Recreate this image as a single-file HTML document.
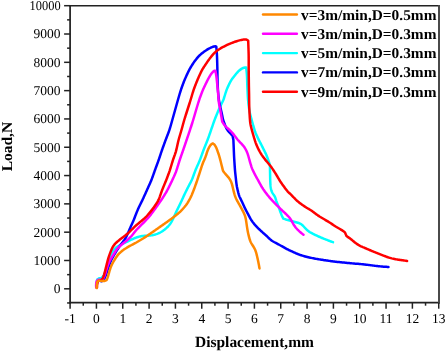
<!DOCTYPE html>
<html><head><meta charset="utf-8"><style>
html,body{margin:0;padding:0;background:#fff;width:445px;height:351px;overflow:hidden}
svg{display:block;text-rendering:geometricPrecision;will-change:transform}
.t{font-family:"Liberation Serif",serif;font-size:13.5px;fill:#000}
.b{font-family:"Liberation Serif",serif;font-size:15px;font-weight:bold;fill:#000}
.l{font-family:"Liberation Serif",serif;font-size:15px;font-weight:bold;fill:#000}
</style></head><body>
<svg width="445" height="351" viewBox="0 0 445 351">
<path d="M96.60,287.00 L96.63,286.08 L96.67,285.17 L96.70,284.25 L96.76,283.33 L96.82,282.41 L96.89,281.48 L97.00,280.55 L97.20,279.60 L98.15,278.90 L99.10,278.20 L100.30,278.35 L101.39,278.00 L102.23,277.38 L102.93,276.63 L103.53,275.79 L104.05,274.90 L104.49,273.95 L104.88,272.98 L105.23,272.00 L105.54,271.00 L105.85,270.00 L106.14,269.00 L106.43,268.00 L106.71,267.00 L107.00,266.00 L107.29,265.00 L107.57,264.00 L107.86,263.00 L108.16,262.00 L108.47,261.00 L108.79,260.00 L109.14,259.00 L109.50,258.01 L109.89,257.03 L110.29,256.06 L110.71,255.10 L111.13,254.17 L111.57,253.26 L112.03,252.38 L112.52,251.53 L113.06,250.72 L113.63,249.95 L114.26,249.23 L114.92,248.56 L115.63,247.92 L116.38,247.34 L117.16,246.80 L117.97,246.29 L118.80,245.82 L119.64,245.36 L120.49,244.93 L121.35,244.50 L122.20,244.07 L123.06,243.65 L123.92,243.23 L124.79,242.80 L125.67,242.38 L126.56,241.95 L127.47,241.51 L128.39,241.07 L129.32,240.62 L130.26,240.16 L131.21,239.71 L132.18,239.25 L133.15,238.80 L134.13,238.37 L135.12,237.96 L136.11,237.58 L137.11,237.23 L138.11,236.92 L139.11,236.65 L140.12,236.42 L141.13,236.23 L142.14,236.08 L143.16,235.96 L144.17,235.87 L145.18,235.80 L146.19,235.75 L147.20,235.70 L148.20,235.66 L149.21,235.59 L150.22,235.50 L151.23,235.38 L152.24,235.22 L153.26,235.02 L154.27,234.78 L155.28,234.50 L156.28,234.18 L157.28,233.82 L158.25,233.42 L159.22,232.99 L160.15,232.52 L161.06,232.01 L161.95,231.47 L162.81,230.91 L163.65,230.32 L164.47,229.70 L165.27,229.06 L166.04,228.39 L166.79,227.70 L167.51,226.99 L168.22,226.26 L168.89,225.51 L169.53,224.75 L170.14,223.96 L170.69,223.15 L171.21,222.32 L171.69,221.46 L172.15,220.60 L172.60,219.72 L173.04,218.83 L173.47,217.93 L173.90,217.02 L174.32,216.10 L174.74,215.17 L175.16,214.24 L175.58,213.31 L175.99,212.39 L176.42,211.48 L176.84,210.59 L177.26,209.70 L177.69,208.83 L178.12,207.96 L178.55,207.10 L178.98,206.24 L179.41,205.37 L179.84,204.50 L180.26,203.62 L180.69,202.73 L181.11,201.83 L181.54,200.92 L181.96,200.00 L182.38,199.08 L182.80,198.15 L183.22,197.22 L183.64,196.30 L184.06,195.38 L184.49,194.47 L184.91,193.58 L185.34,192.69 L185.76,191.82 L186.19,190.96 L186.62,190.10 L187.05,189.25 L187.48,188.40 L187.91,187.55 L188.35,186.70 L188.78,185.86 L189.22,185.02 L189.66,184.17 L190.10,183.33 L190.54,182.49 L190.97,181.65 L191.38,180.79 L191.78,179.93 L192.16,179.05 L192.52,178.16 L192.87,177.26 L193.20,176.36 L193.53,175.45 L193.86,174.55 L194.19,173.64 L194.53,172.73 L194.87,171.82 L195.22,170.91 L195.58,170.00 L195.95,169.09 L196.34,168.18 L196.74,167.27 L197.14,166.36 L197.55,165.45 L197.95,164.55 L198.36,163.64 L198.76,162.73 L199.16,161.82 L199.54,160.91 L199.91,160.00 L200.27,159.09 L200.61,158.18 L200.94,157.27 L201.27,156.36 L201.59,155.45 L201.91,154.55 L202.23,153.64 L202.55,152.73 L202.88,151.82 L203.21,150.91 L203.55,150.00 L203.90,149.09 L204.26,148.18 L204.63,147.27 L204.99,146.36 L205.36,145.45 L205.74,144.55 L206.11,143.64 L206.48,142.73 L206.84,141.81 L207.20,140.90 L207.55,139.98 L207.90,139.07 L208.24,138.15 L208.57,137.22 L208.90,136.30 L209.23,135.37 L209.55,134.44 L209.88,133.50 L210.21,132.56 L210.53,131.61 L210.86,130.65 L211.19,129.69 L211.52,128.72 L211.85,127.75 L212.18,126.78 L212.52,125.82 L212.85,124.85 L213.18,123.88 L213.51,122.92 L213.85,121.96 L214.19,121.01 L214.53,120.07 L214.88,119.15 L215.24,118.24 L215.60,117.33 L215.96,116.43 L216.32,115.54 L216.69,114.64 L217.05,113.75 L217.41,112.86 L217.78,111.96 L218.15,111.07 L218.52,110.17 L218.91,109.27 L219.30,108.37 L219.72,107.46 L220.16,106.54 L220.61,105.61 L221.08,104.68 L221.55,103.74 L222.01,102.80 L222.47,101.86 L222.90,100.90 L223.31,99.94 L223.68,98.97 L224.02,97.98 L224.34,96.99 L224.65,96.00 L224.95,95.00 L225.25,94.00 L225.55,93.01 L225.86,92.03 L226.19,91.05 L226.53,90.09 L226.90,89.14 L227.29,88.21 L227.70,87.28 L228.12,86.37 L228.54,85.46 L228.97,84.55 L229.40,83.64 L229.85,82.75 L230.31,81.86 L230.80,81.00 L231.31,80.16 L231.86,79.34 L232.44,78.55 L233.03,77.77 L233.63,77.01 L234.23,76.25 L234.82,75.50 L235.40,74.76 L235.99,74.02 L236.60,73.29 L237.21,72.57 L237.85,71.87 L238.51,71.19 L239.20,70.54 L239.92,69.93 L240.68,69.37 L241.46,68.85 L242.28,68.39 L243.15,67.99 L244.07,67.69 L245.05,67.50 L246.20,67.60 L246.31,68.66 L246.43,69.71 L246.54,70.77 L246.65,71.83 L246.75,72.87 L246.84,73.91 L246.92,74.94 L246.98,75.97 L247.03,76.98 L247.07,77.99 L247.10,79.00 L247.14,80.00 L247.16,81.00 L247.19,82.00 L247.22,83.00 L247.25,84.00 L247.29,85.00 L247.32,86.00 L247.36,87.00 L247.41,88.00 L247.45,89.00 L247.50,90.00 L247.55,91.00 L247.60,92.00 L247.65,93.00 L247.70,94.00 L247.75,95.00 L247.80,96.00 L247.86,97.00 L247.92,98.00 L247.99,99.00 L248.07,100.00 L248.17,101.00 L248.27,102.00 L248.38,103.00 L248.50,104.00 L248.63,105.00 L248.75,106.00 L248.88,107.00 L249.01,108.00 L249.14,109.00 L249.29,110.00 L249.46,111.00 L249.65,112.00 L249.86,113.00 L250.09,114.00 L250.34,115.00 L250.61,116.00 L250.88,117.00 L251.15,118.00 L251.42,119.00 L251.70,119.99 L251.97,120.99 L252.25,121.98 L252.52,122.97 L252.80,123.97 L253.07,124.96 L253.35,125.95 L253.63,126.94 L253.91,127.93 L254.19,128.91 L254.49,129.89 L254.81,130.86 L255.14,131.81 L255.50,132.75 L255.89,133.67 L256.29,134.59 L256.70,135.50 L257.12,136.40 L257.55,137.31 L257.98,138.22 L258.43,139.14 L258.90,140.07 L259.37,141.01 L259.86,141.96 L260.35,142.91 L260.84,143.85 L261.33,144.80 L261.81,145.73 L262.28,146.66 L262.74,147.59 L263.21,148.51 L263.67,149.44 L264.13,150.36 L264.59,151.29 L265.05,152.21 L265.50,153.14 L265.94,154.07 L266.37,155.01 L266.77,155.96 L267.16,156.93 L267.53,157.90 L267.89,158.87 L268.23,159.86 L268.57,160.84 L268.90,161.83 L269.23,162.82 L269.57,163.81 L269.90,164.80 L269.92,165.81 L269.94,166.83 L269.96,167.84 L269.98,168.85 L270.00,169.87 L270.02,170.88 L270.04,171.89 L270.06,172.91 L270.08,173.92 L270.10,174.93 L270.12,175.95 L270.14,176.96 L270.16,177.97 L270.18,178.99 L270.20,180.00 L270.24,181.00 L270.29,182.00 L270.33,183.00 L270.38,184.00 L270.46,184.99 L270.55,185.98 L270.67,186.97 L270.82,187.94 L271.01,188.91 L271.23,189.86 L271.51,190.79 L271.85,191.69 L272.26,192.54 L272.74,193.36 L273.26,194.15 L273.80,194.93 L274.31,195.71 L274.76,196.51 L275.14,197.34 L275.45,198.20 L275.73,199.08 L275.99,199.97 L276.27,200.86 L276.58,201.75 L276.91,202.65 L277.26,203.56 L277.63,204.48 L278.00,205.40 L278.38,206.33 L278.75,207.27 L279.10,208.21 L279.45,209.16 L279.78,210.10 L280.11,211.05 L280.43,211.99 L280.77,212.93 L281.13,213.87 L281.50,214.81 L281.89,215.74 L282.32,216.66 L282.76,217.58 L283.20,218.50 L284.12,218.84 L285.04,219.18 L285.96,219.50 L286.88,219.78 L287.80,220.03 L288.72,220.27 L289.63,220.49 L290.55,220.71 L291.45,220.94 L292.35,221.17 L293.25,221.42 L294.15,221.68 L295.05,221.93 L295.95,222.18 L296.85,222.42 L297.76,222.67 L298.67,222.97 L299.57,223.32 L300.44,223.76 L301.27,224.28 L302.06,224.88 L302.79,225.54 L303.48,226.25 L304.14,226.98 L304.80,227.72 L305.46,228.44 L306.15,229.14 L306.86,229.81 L307.60,230.45 L308.37,231.07 L309.16,231.65 L310.00,232.20 L310.86,232.72 L311.76,233.21 L312.67,233.68 L313.60,234.13 L314.54,234.57 L315.47,235.01 L316.41,235.44 L317.34,235.88 L318.27,236.31 L319.21,236.74 L320.16,237.16 L321.12,237.58 L322.09,237.99 L323.06,238.39 L324.04,238.79 L325.03,239.18 L326.02,239.57 L327.01,239.96 L328.00,240.34 L329.00,240.71 L330.00,241.09 L331.00,241.46 L332.00,241.83 L333.00,242.20" fill="none" stroke="#00ffff" stroke-width="2.5" stroke-linejoin="round" stroke-linecap="round"/><path d="M96.60,287.00 L96.64,286.00 L96.68,285.00 L96.78,284.05 L97.06,283.22 L97.30,282.36 L97.65,281.58 L98.27,281.00 L99.00,280.50 L99.83,280.73 L100.67,280.97 L101.50,281.20 L102.50,280.85 L103.22,280.31 L103.79,279.57 L104.28,278.74 L104.73,277.85 L105.13,276.92 L105.50,275.96 L105.86,275.00 L106.20,274.03 L106.52,273.06 L106.85,272.11 L107.17,271.17 L107.48,270.23 L107.80,269.28 L108.12,268.34 L108.44,267.40 L108.76,266.45 L109.08,265.50 L109.42,264.56 L109.76,263.61 L110.12,262.67 L110.50,261.74 L110.90,260.81 L111.32,259.90 L111.76,259.01 L112.23,258.14 L112.71,257.28 L113.21,256.42 L113.70,255.58 L114.19,254.73 L114.68,253.88 L115.19,253.02 L115.71,252.16 L116.25,251.30 L116.81,250.44 L117.37,249.59 L117.93,248.75 L118.49,247.91 L119.04,247.08 L119.62,246.25 L120.22,245.41 L120.85,244.56 L121.50,243.69 L122.17,242.83 L122.85,241.96 L123.51,241.09 L124.15,240.23 L124.75,239.36 L125.30,238.50 L125.80,237.64 L126.26,236.79 L126.68,235.93 L127.07,235.06 L127.46,234.19 L127.84,233.32 L128.23,232.43 L128.62,231.53 L129.01,230.62 L129.40,229.71 L129.80,228.79 L130.20,227.88 L130.60,226.97 L131.00,226.07 L131.40,225.18 L131.80,224.30 L132.20,223.43 L132.59,222.56 L132.99,221.67 L133.38,220.78 L133.76,219.86 L134.14,218.93 L134.51,217.98 L134.88,217.02 L135.24,216.06 L135.60,215.12 L135.96,214.19 L136.33,213.29 L136.69,212.39 L137.05,211.51 L137.42,210.63 L137.80,209.75 L138.18,208.87 L138.58,207.99 L138.99,207.10 L139.41,206.22 L139.84,205.33 L140.28,204.44 L140.72,203.55 L141.16,202.66 L141.60,201.77 L142.04,200.88 L142.47,199.98 L142.89,199.08 L143.31,198.18 L143.72,197.27 L144.13,196.36 L144.54,195.45 L144.95,194.55 L145.36,193.64 L145.77,192.73 L146.18,191.82 L146.59,190.91 L147.00,190.00 L147.41,189.09 L147.82,188.18 L148.23,187.27 L148.64,186.36 L149.05,185.45 L149.45,184.55 L149.86,183.64 L150.26,182.73 L150.66,181.82 L151.04,180.91 L151.41,180.00 L151.77,179.09 L152.11,178.18 L152.44,177.27 L152.77,176.36 L153.09,175.45 L153.41,174.55 L153.73,173.64 L154.05,172.73 L154.37,171.82 L154.69,170.91 L155.02,170.00 L155.35,169.09 L155.68,168.18 L156.01,167.27 L156.35,166.36 L156.68,165.45 L157.02,164.55 L157.35,163.64 L157.69,162.73 L158.02,161.82 L158.34,160.91 L158.66,160.00 L158.98,159.09 L159.29,158.18 L159.60,157.27 L159.90,156.36 L160.20,155.45 L160.50,154.55 L160.80,153.64 L161.10,152.73 L161.41,151.82 L161.72,150.91 L162.03,150.00 L162.34,149.09 L162.66,148.18 L162.99,147.27 L163.31,146.36 L163.64,145.45 L163.96,144.55 L164.29,143.64 L164.62,142.73 L164.95,141.82 L165.29,140.91 L165.63,140.00 L165.97,139.09 L166.32,138.18 L166.67,137.27 L167.02,136.36 L167.37,135.45 L167.73,134.54 L168.08,133.63 L168.43,132.72 L168.77,131.79 L169.10,130.86 L169.43,129.91 L169.74,128.95 L170.04,127.97 L170.33,126.99 L170.62,126.00 L170.90,125.00 L171.18,124.00 L171.46,123.00 L171.74,122.00 L172.02,121.00 L172.30,120.00 L172.58,119.00 L172.86,118.00 L173.14,117.00 L173.42,116.00 L173.70,115.00 L173.98,114.00 L174.26,113.00 L174.54,112.00 L174.82,111.00 L175.10,110.00 L175.38,109.00 L175.66,108.00 L175.94,107.00 L176.22,106.00 L176.50,105.00 L176.78,104.00 L177.06,103.00 L177.34,102.00 L177.63,101.00 L177.91,100.00 L178.20,99.00 L178.48,98.00 L178.77,97.00 L179.06,96.00 L179.35,95.00 L179.64,94.00 L179.94,93.01 L180.23,92.03 L180.54,91.05 L180.85,90.09 L181.16,89.14 L181.49,88.21 L181.81,87.28 L182.15,86.37 L182.48,85.46 L182.82,84.55 L183.16,83.64 L183.50,82.72 L183.85,81.81 L184.21,80.89 L184.59,79.97 L184.98,79.05 L185.38,78.12 L185.79,77.19 L186.21,76.25 L186.64,75.32 L187.07,74.38 L187.49,73.45 L187.93,72.52 L188.37,71.61 L188.82,70.70 L189.28,69.81 L189.76,68.94 L190.24,68.09 L190.74,67.25 L191.24,66.43 L191.75,65.60 L192.27,64.78 L192.79,63.97 L193.32,63.15 L193.86,62.35 L194.42,61.54 L195.01,60.75 L195.61,59.96 L196.23,59.18 L196.86,58.41 L197.50,57.65 L198.16,56.90 L198.82,56.18 L199.50,55.48 L200.20,54.82 L200.92,54.18 L201.65,53.57 L202.39,52.98 L203.15,52.39 L203.92,51.82 L204.70,51.27 L205.51,50.72 L206.33,50.19 L207.16,49.68 L208.00,49.18 L208.84,48.70 L209.68,48.25 L210.52,47.83 L211.35,47.44 L212.19,47.10 L213.03,46.79 L213.86,46.54 L214.71,46.35 L215.55,46.29 L216.30,46.70 L216.39,47.74 L216.48,48.78 L216.56,49.81 L216.65,50.85 L216.73,51.88 L216.81,52.91 L216.88,53.94 L216.94,54.96 L216.99,55.98 L217.04,56.99 L217.07,58.00 L217.10,59.00 L217.13,60.00 L217.16,61.00 L217.19,62.00 L217.21,63.00 L217.24,64.00 L217.27,65.00 L217.29,66.00 L217.32,67.00 L217.34,68.00 L217.36,69.00 L217.38,70.00 L217.40,71.00 L217.42,72.00 L217.43,73.00 L217.44,74.00 L217.45,75.00 L217.46,76.00 L217.47,77.00 L217.49,78.00 L217.51,79.00 L217.53,80.00 L217.56,81.00 L217.59,82.00 L217.62,83.00 L217.66,84.00 L217.70,85.00 L217.74,86.00 L217.79,87.00 L217.83,88.00 L217.89,89.00 L217.95,90.00 L218.02,91.00 L218.09,92.00 L218.18,93.00 L218.26,94.00 L218.35,95.00 L218.45,96.00 L218.54,97.00 L218.65,98.00 L218.77,99.00 L218.91,100.00 L219.06,101.00 L219.23,102.00 L219.42,103.00 L219.62,104.00 L219.83,105.00 L220.05,106.00 L220.28,107.00 L220.51,108.00 L220.75,109.00 L220.99,110.00 L221.22,111.00 L221.45,112.00 L221.67,113.00 L221.89,114.00 L222.10,115.00 L222.30,116.00 L222.50,117.00 L222.70,118.00 L222.90,119.00 L223.10,120.00 L223.48,121.00 L223.86,122.00 L224.24,122.99 L224.60,123.96 L224.96,124.91 L225.33,125.84 L225.71,126.75 L226.11,127.64 L226.54,128.51 L227.01,129.34 L227.55,130.15 L228.13,130.94 L228.75,131.71 L229.42,132.47 L230.13,133.22 L230.86,133.97 L231.67,134.73 L232.50,135.50 L232.68,136.40 L232.86,137.30 L233.04,138.20 L233.22,139.10 L233.40,140.00 L233.44,141.01 L233.48,142.01 L233.52,143.02 L233.56,144.02 L233.61,145.03 L233.65,146.04 L233.69,147.04 L233.73,148.05 L233.77,149.05 L233.81,150.06 L233.85,151.06 L233.89,152.07 L233.94,153.08 L233.98,154.08 L234.02,155.08 L234.07,156.08 L234.12,157.07 L234.18,158.06 L234.24,159.05 L234.30,160.03 L234.36,161.01 L234.42,161.99 L234.49,162.97 L234.55,163.95 L234.61,164.93 L234.68,165.91 L234.75,166.89 L234.81,167.87 L234.89,168.86 L234.96,169.85 L235.05,170.85 L235.14,171.85 L235.24,172.87 L235.35,173.89 L235.46,174.91 L235.57,175.93 L235.68,176.96 L235.79,177.99 L235.91,179.01 L236.02,180.04 L236.14,181.07 L236.25,182.09 L236.37,183.11 L236.51,184.12 L236.65,185.12 L236.81,186.11 L236.99,187.09 L237.19,188.05 L237.40,189.00 L237.61,189.94 L237.84,190.88 L238.07,191.82 L238.30,192.75 L238.55,193.67 L238.81,194.59 L239.10,195.49 L239.43,196.37 L239.79,197.23 L240.18,198.07 L240.59,198.91 L241.01,199.74 L241.43,200.58 L241.85,201.44 L242.26,202.30 L242.66,203.18 L243.05,204.06 L243.45,204.95 L243.85,205.84 L244.25,206.73 L244.67,207.63 L245.11,208.53 L245.56,209.43 L246.03,210.34 L246.51,211.25 L246.99,212.15 L247.47,213.05 L247.94,213.94 L248.41,214.82 L248.87,215.70 L249.33,216.56 L249.79,217.42 L250.27,218.28 L250.76,219.13 L251.29,219.98 L251.84,220.82 L252.42,221.65 L253.03,222.48 L253.67,223.30 L254.31,224.10 L254.98,224.88 L255.66,225.65 L256.35,226.39 L257.05,227.12 L257.75,227.84 L258.47,228.55 L259.18,229.25 L259.90,229.94 L260.62,230.62 L261.34,231.29 L262.07,231.94 L262.80,232.59 L263.52,233.23 L264.25,233.86 L264.97,234.50 L265.68,235.14 L266.39,235.78 L267.10,236.44 L267.80,237.11 L268.51,237.79 L269.23,238.48 L269.96,239.15 L270.72,239.80 L271.52,240.42 L272.34,240.99 L273.19,241.51 L274.06,242.01 L274.93,242.48 L275.80,242.93 L276.66,243.38 L277.52,243.84 L278.37,244.29 L279.22,244.76 L280.08,245.23 L280.94,245.72 L281.80,246.21 L282.67,246.70 L283.53,247.19 L284.39,247.68 L285.24,248.15 L286.08,248.61 L286.92,249.05 L287.75,249.47 L288.58,249.87 L289.42,250.26 L290.27,250.66 L291.14,251.06 L292.02,251.47 L292.91,251.88 L293.80,252.30 L294.71,252.71 L295.61,253.12 L296.53,253.53 L297.46,253.91 L298.40,254.28 L299.36,254.63 L300.33,254.97 L301.31,255.28 L302.30,255.59 L303.30,255.89 L304.30,256.19 L305.30,256.47 L306.30,256.74 L307.30,257.00 L308.30,257.24 L309.30,257.47 L310.30,257.69 L311.30,257.89 L312.30,258.10 L313.30,258.29 L314.30,258.49 L315.30,258.68 L316.30,258.86 L317.30,259.03 L318.30,259.20 L319.30,259.36 L320.30,259.52 L321.30,259.68 L322.30,259.83 L323.30,259.99 L324.29,260.14 L325.29,260.29 L326.28,260.44 L327.27,260.59 L328.27,260.73 L329.26,260.88 L330.24,261.02 L331.23,261.16 L332.23,261.30 L333.22,261.43 L334.21,261.56 L335.21,261.68 L336.20,261.79 L337.20,261.89 L338.20,262.00 L339.20,262.10 L340.20,262.20 L341.20,262.30 L342.20,262.40 L343.20,262.50 L344.20,262.60 L345.20,262.70 L346.20,262.80 L347.20,262.90 L348.20,263.00 L349.20,263.10 L350.20,263.19 L351.20,263.29 L352.20,263.38 L353.20,263.47 L354.20,263.55 L355.20,263.63 L356.20,263.71 L357.20,263.79 L358.20,263.87 L359.19,263.95 L360.18,264.04 L361.17,264.13 L362.15,264.23 L363.12,264.33 L364.10,264.44 L365.06,264.55 L366.03,264.66 L367.00,264.77 L367.96,264.88 L368.91,265.00 L369.87,265.12 L370.82,265.25 L371.76,265.37 L372.70,265.50 L373.64,265.62 L374.58,265.75 L375.52,265.87 L376.46,265.98 L377.41,266.09 L378.36,266.19 L379.33,266.29 L380.30,266.38 L381.29,266.47 L382.29,266.56 L383.31,266.64 L384.33,266.71 L385.37,266.79 L386.41,266.86 L387.46,266.93 L388.50,267.00" fill="none" stroke="#0000ff" stroke-width="2.5" stroke-linejoin="round" stroke-linecap="round"/><path d="M96.20,287.50 L96.15,286.62 L96.10,285.75 L96.13,284.87 L96.18,283.98 L96.24,283.10 L96.40,282.20 L96.60,281.30 L97.30,280.55 L98.00,279.80 L98.83,279.73 L99.70,279.67 L100.62,279.61 L101.55,279.55 L102.60,279.50 L103.10,278.60 L103.60,277.70 L104.03,276.79 L104.41,275.86 L104.76,274.94 L105.08,274.00 L105.39,273.07 L105.68,272.13 L105.96,271.18 L106.24,270.24 L106.53,269.29 L106.82,268.35 L107.11,267.40 L107.42,266.46 L107.74,265.52 L108.08,264.59 L108.44,263.67 L108.82,262.76 L109.24,261.86 L109.68,260.97 L110.15,260.08 L110.64,259.20 L111.16,258.32 L111.70,257.43 L112.25,256.55 L112.80,255.67 L113.34,254.80 L113.86,253.93 L114.37,253.06 L114.87,252.21 L115.37,251.37 L115.89,250.56 L116.43,249.78 L117.02,249.02 L117.65,248.29 L118.32,247.58 L119.03,246.89 L119.78,246.20 L120.56,245.52 L121.37,244.84 L122.20,244.16 L123.05,243.48 L123.90,242.80 L124.75,242.12 L125.60,241.44 L126.44,240.75 L127.26,240.06 L128.06,239.36 L128.83,238.66 L129.58,237.95 L130.31,237.24 L131.00,236.51 L131.67,235.78 L132.31,235.04 L132.92,234.29 L133.51,233.53 L134.09,232.77 L134.68,232.01 L135.29,231.25 L135.92,230.50 L136.58,229.76 L137.27,229.02 L137.97,228.29 L138.68,227.56 L139.39,226.84 L140.11,226.11 L140.84,225.39 L141.56,224.68 L142.28,223.96 L143.00,223.25 L143.71,222.53 L144.41,221.82 L145.10,221.11 L145.77,220.41 L146.42,219.70 L147.06,219.00 L147.69,218.30 L148.32,217.59 L148.94,216.87 L149.56,216.14 L150.18,215.39 L150.79,214.62 L151.39,213.84 L152.00,213.05 L152.60,212.24 L153.20,211.43 L153.80,210.62 L154.39,209.80 L154.98,208.98 L155.57,208.16 L156.16,207.33 L156.75,206.50 L157.33,205.68 L157.91,204.85 L158.50,204.03 L159.08,203.22 L159.65,202.40 L160.22,201.59 L160.79,200.78 L161.34,199.96 L161.89,199.14 L162.42,198.31 L162.95,197.49 L163.47,196.66 L163.98,195.84 L164.49,195.02 L164.99,194.21 L165.49,193.39 L165.98,192.57 L166.47,191.74 L166.95,190.89 L167.42,190.02 L167.89,189.13 L168.34,188.24 L168.80,187.33 L169.25,186.41 L169.70,185.50 L170.15,184.58 L170.60,183.67 L171.04,182.75 L171.49,181.84 L171.92,180.93 L172.35,180.03 L172.77,179.13 L173.19,178.23 L173.59,177.34 L174.00,176.45 L174.39,175.55 L174.79,174.66 L175.17,173.77 L175.54,172.87 L175.89,171.97 L176.22,171.06 L176.54,170.14 L176.84,169.23 L177.13,168.31 L177.42,167.38 L177.71,166.46 L177.99,165.54 L178.28,164.62 L178.56,163.69 L178.85,162.77 L179.14,161.85 L179.43,160.93 L179.73,160.01 L180.04,159.10 L180.35,158.19 L180.66,157.27 L180.97,156.36 L181.29,155.45 L181.61,154.55 L181.93,153.64 L182.24,152.73 L182.56,151.82 L182.88,150.91 L183.19,150.00 L183.50,149.09 L183.82,148.18 L184.13,147.27 L184.44,146.36 L184.75,145.45 L185.05,144.55 L185.36,143.64 L185.67,142.73 L185.98,141.82 L186.29,140.91 L186.60,140.00 L186.91,139.09 L187.22,138.18 L187.53,137.27 L187.84,136.36 L188.15,135.45 L188.45,134.54 L188.76,133.63 L189.07,132.72 L189.38,131.79 L189.70,130.86 L190.01,129.91 L190.33,128.95 L190.64,127.97 L190.96,126.99 L191.28,126.00 L191.60,125.00 L191.92,124.00 L192.24,123.00 L192.55,122.00 L192.86,121.00 L193.17,120.00 L193.47,119.00 L193.77,118.00 L194.07,117.00 L194.36,116.00 L194.65,115.00 L194.94,114.00 L195.23,113.00 L195.52,112.00 L195.82,111.00 L196.11,110.00 L196.41,109.00 L196.70,108.00 L197.00,107.00 L197.30,106.00 L197.60,105.00 L197.90,104.00 L198.20,103.01 L198.51,102.03 L198.82,101.05 L199.14,100.09 L199.46,99.14 L199.78,98.21 L200.11,97.28 L200.45,96.37 L200.78,95.46 L201.12,94.55 L201.46,93.64 L201.80,92.73 L202.16,91.82 L202.52,90.91 L202.90,90.00 L203.29,89.09 L203.70,88.18 L204.12,87.27 L204.55,86.36 L204.98,85.45 L205.42,84.55 L205.86,83.64 L206.30,82.73 L206.74,81.83 L207.19,80.93 L207.65,80.04 L208.11,79.15 L208.59,78.27 L209.07,77.40 L209.56,76.54 L210.07,75.69 L210.60,74.86 L211.15,74.06 L211.73,73.28 L212.33,72.54 L212.96,71.84 L213.64,71.21 L214.35,70.66 L215.30,70.70 L215.55,71.78 L215.80,72.85 L216.00,73.90 L216.17,74.94 L216.32,75.96 L216.46,76.98 L216.58,77.99 L216.69,79.00 L216.80,80.00 L216.90,81.00 L217.00,82.00 L217.10,83.00 L217.20,84.00 L217.30,85.00 L217.40,86.00 L217.50,87.00 L217.60,88.00 L217.70,89.00 L217.79,89.99 L217.88,90.99 L217.97,91.98 L218.06,92.97 L218.14,93.96 L218.21,94.94 L218.29,95.93 L218.36,96.91 L218.44,97.89 L218.52,98.87 L218.60,99.86 L218.69,100.84 L218.80,101.82 L218.92,102.81 L219.07,103.79 L219.24,104.78 L219.42,105.76 L219.60,106.75 L219.80,107.74 L219.99,108.73 L220.18,109.71 L220.36,110.70 L220.54,111.69 L220.72,112.68 L220.89,113.67 L221.05,114.66 L221.22,115.65 L221.38,116.65 L221.55,117.64 L221.71,118.63 L221.87,119.62 L222.04,120.61 L222.20,121.60 L222.68,122.38 L223.17,123.17 L223.65,123.95 L224.19,124.70 L224.78,125.42 L225.40,126.13 L226.07,126.80 L226.77,127.46 L227.50,128.10 L228.24,128.75 L228.98,129.40 L229.71,130.08 L230.43,130.78 L231.12,131.52 L231.81,132.28 L232.48,133.06 L233.13,133.86 L233.77,134.65 L234.39,135.44 L234.99,136.21 L235.57,136.98 L236.15,137.74 L236.73,138.48 L237.32,139.22 L237.93,139.95 L238.56,140.67 L239.20,141.38 L239.86,142.09 L240.52,142.78 L241.18,143.48 L241.84,144.16 L242.47,144.85 L243.09,145.55 L243.67,146.27 L244.23,147.03 L244.76,147.82 L245.26,148.64 L245.74,149.49 L246.19,150.37 L246.63,151.26 L247.03,152.18 L247.40,153.11 L247.75,154.06 L248.06,155.03 L248.35,156.01 L248.62,157.00 L248.89,157.99 L249.15,158.97 L249.42,159.95 L249.69,160.91 L249.96,161.87 L250.24,162.83 L250.51,163.77 L250.80,164.72 L251.09,165.65 L251.39,166.58 L251.71,167.50 L252.05,168.41 L252.41,169.30 L252.80,170.17 L253.21,171.04 L253.63,171.90 L254.05,172.75 L254.49,173.61 L254.93,174.47 L255.39,175.34 L255.86,176.23 L256.35,177.14 L256.87,178.07 L257.39,179.01 L257.92,179.96 L258.45,180.91 L258.97,181.86 L259.49,182.80 L260.00,183.74 L260.51,184.67 L261.02,185.60 L261.55,186.50 L262.08,187.40 L262.63,188.28 L263.19,189.14 L263.77,189.98 L264.36,190.82 L264.96,191.65 L265.57,192.48 L266.19,193.30 L266.82,194.12 L267.46,194.93 L268.11,195.74 L268.76,196.55 L269.42,197.35 L270.08,198.14 L270.76,198.91 L271.45,199.68 L272.14,200.43 L272.85,201.16 L273.55,201.90 L274.26,202.62 L274.98,203.35 L275.69,204.07 L276.40,204.79 L277.11,205.51 L277.82,206.22 L278.54,206.93 L279.25,207.65 L279.96,208.35 L280.68,209.05 L281.39,209.75 L282.10,210.43 L282.81,211.10 L283.52,211.75 L284.24,212.41 L284.95,213.05 L285.66,213.71 L286.37,214.37 L287.07,215.05 L287.76,215.76 L288.45,216.50 L289.12,217.27 L289.76,218.07 L290.37,218.91 L290.95,219.78 L291.49,220.67 L291.99,221.59 L292.49,222.52 L292.99,223.45 L293.51,224.36 L294.06,225.25 L294.65,226.12 L295.27,226.95 L295.90,227.75 L296.56,228.52 L297.24,229.26 L297.94,229.97 L298.65,230.67 L299.39,231.36 L300.15,232.03 L300.93,232.71 L301.75,233.40 L302.62,234.10 L303.50,234.80" fill="none" stroke="#ff00ff" stroke-width="2.5" stroke-linejoin="round" stroke-linecap="round"/><path d="M97.00,287.50 L97.03,286.50 L97.05,285.50 L97.21,284.45 L97.33,283.42 L97.55,282.35 L98.00,281.20 L98.75,280.90 L99.64,280.66 L100.50,280.40 L101.50,280.20 L102.00,279.45 L102.50,278.70 L102.92,277.86 L103.30,276.97 L103.64,276.05 L103.95,275.10 L104.24,274.13 L104.51,273.15 L104.77,272.18 L105.02,271.21 L105.26,270.26 L105.50,269.31 L105.73,268.37 L105.97,267.43 L106.20,266.48 L106.43,265.54 L106.67,264.60 L106.90,263.65 L107.14,262.70 L107.38,261.75 L107.63,260.80 L107.88,259.84 L108.16,258.88 L108.45,257.90 L108.77,256.92 L109.11,255.92 L109.47,254.92 L109.83,253.90 L110.20,252.89 L110.58,251.88 L110.95,250.89 L111.35,249.91 L111.76,248.96 L112.20,248.04 L112.68,247.15 L113.19,246.29 L113.75,245.47 L114.36,244.68 L115.01,243.92 L115.71,243.19 L116.44,242.48 L117.21,241.79 L118.00,241.10 L118.82,240.42 L119.65,239.75 L120.49,239.08 L121.34,238.42 L122.20,237.78 L123.06,237.14 L123.91,236.51 L124.75,235.88 L125.58,235.25 L126.40,234.60 L127.20,233.94 L127.98,233.27 L128.75,232.58 L129.49,231.88 L130.23,231.17 L130.94,230.46 L131.65,229.74 L132.35,229.01 L133.06,228.29 L133.77,227.57 L134.50,226.86 L135.24,226.16 L136.01,225.47 L136.81,224.78 L137.61,224.10 L138.43,223.43 L139.26,222.75 L140.08,222.07 L140.91,221.39 L141.73,220.70 L142.56,220.02 L143.38,219.33 L144.17,218.63 L144.94,217.92 L145.68,217.21 L146.37,216.49 L147.03,215.76 L147.68,215.03 L148.30,214.30 L148.92,213.58 L149.54,212.86 L150.15,212.13 L150.76,211.40 L151.37,210.65 L151.97,209.88 L152.57,209.10 L153.16,208.30 L153.74,207.48 L154.32,206.66 L154.89,205.83 L155.45,205.00 L156.00,204.17 L156.54,203.33 L157.07,202.49 L157.57,201.65 L158.04,200.79 L158.48,199.93 L158.88,199.05 L159.25,198.16 L159.60,197.26 L159.93,196.36 L160.24,195.45 L160.55,194.55 L160.87,193.64 L161.18,192.73 L161.50,191.82 L161.83,190.91 L162.17,190.00 L162.52,189.09 L162.88,188.18 L163.25,187.27 L163.63,186.36 L164.01,185.45 L164.39,184.55 L164.77,183.64 L165.15,182.73 L165.52,181.82 L165.89,180.91 L166.26,180.00 L166.61,179.09 L166.96,178.18 L167.30,177.27 L167.64,176.36 L167.98,175.45 L168.32,174.54 L168.65,173.63 L168.99,172.72 L169.31,171.79 L169.64,170.86 L169.95,169.91 L170.26,168.95 L170.57,167.97 L170.86,166.99 L171.16,166.00 L171.45,165.00 L171.74,164.00 L172.04,163.01 L172.33,162.03 L172.63,161.06 L172.94,160.10 L173.26,159.16 L173.58,158.23 L173.91,157.31 L174.23,156.40 L174.56,155.50 L174.89,154.59 L175.20,153.67 L175.50,152.75 L175.79,151.81 L176.05,150.86 L176.30,149.89 L176.54,148.91 L176.76,147.93 L176.98,146.94 L177.20,145.95 L177.42,144.96 L177.64,143.97 L177.86,142.97 L178.09,141.98 L178.33,140.99 L178.58,139.99 L178.85,139.00 L179.12,138.00 L179.41,137.00 L179.70,136.00 L180.00,135.00 L180.30,134.00 L180.60,133.00 L180.89,132.00 L181.18,131.00 L181.47,130.00 L181.75,129.00 L182.03,128.00 L182.31,127.00 L182.58,126.00 L182.85,125.00 L183.12,124.00 L183.40,123.00 L183.67,122.00 L183.96,121.00 L184.25,120.00 L184.55,119.00 L184.85,118.00 L185.17,117.00 L185.48,116.00 L185.80,115.00 L186.12,114.00 L186.44,113.00 L186.76,112.00 L187.08,111.00 L187.40,110.00 L187.72,109.00 L188.04,108.00 L188.36,107.00 L188.68,106.00 L189.00,105.00 L189.32,104.00 L189.64,103.00 L189.95,102.00 L190.26,101.00 L190.57,100.00 L190.87,99.00 L191.17,98.00 L191.47,97.00 L191.76,96.00 L192.05,95.00 L192.34,94.00 L192.64,93.01 L192.94,92.03 L193.25,91.05 L193.56,90.09 L193.89,89.14 L194.23,88.21 L194.57,87.28 L194.92,86.37 L195.27,85.46 L195.63,84.55 L195.98,83.64 L196.34,82.73 L196.71,81.82 L197.08,80.91 L197.45,80.00 L197.84,79.09 L198.23,78.18 L198.63,77.27 L199.04,76.36 L199.45,75.45 L199.86,74.55 L200.27,73.64 L200.69,72.74 L201.12,71.84 L201.57,70.95 L202.05,70.07 L202.54,69.21 L203.06,68.35 L203.59,67.51 L204.14,66.67 L204.69,65.83 L205.25,65.00 L205.81,64.17 L206.37,63.33 L206.94,62.49 L207.51,61.66 L208.09,60.81 L208.69,59.97 L209.30,59.12 L209.92,58.28 L210.55,57.46 L211.18,56.65 L211.82,55.88 L212.45,55.12 L213.09,54.39 L213.74,53.68 L214.39,52.99 L215.07,52.33 L215.78,51.70 L216.51,51.10 L217.28,50.53 L218.06,49.99 L218.86,49.46 L219.68,48.95 L220.50,48.44 L221.34,47.95 L222.20,47.46 L223.07,46.98 L223.95,46.52 L224.85,46.06 L225.75,45.61 L226.66,45.17 L227.58,44.73 L228.49,44.31 L229.40,43.91 L230.31,43.53 L231.23,43.16 L232.14,42.80 L233.05,42.46 L233.97,42.13 L234.88,41.80 L235.80,41.49 L236.73,41.19 L237.66,40.91 L238.59,40.64 L239.53,40.39 L240.48,40.15 L241.42,39.94 L242.36,39.76 L243.29,39.61 L244.21,39.53 L245.11,39.52 L245.98,39.59 L246.82,39.78 L247.53,40.23 L248.20,40.80 L248.24,41.81 L248.27,42.83 L248.31,43.84 L248.34,44.86 L248.38,45.87 L248.41,46.89 L248.45,47.90 L248.49,48.91 L248.52,49.93 L248.56,50.94 L248.59,51.96 L248.62,52.97 L248.64,53.98 L248.67,54.99 L248.68,55.99 L248.69,57.00 L248.70,58.00 L248.70,59.00 L248.70,60.00 L248.70,61.00 L248.70,62.00 L248.70,63.00 L248.70,64.00 L248.70,65.00 L248.70,66.00 L248.70,67.00 L248.70,68.01 L248.71,69.01 L248.71,70.02 L248.72,71.03 L248.73,72.04 L248.74,73.06 L248.75,74.08 L248.76,75.09 L248.78,76.11 L248.79,77.13 L248.80,78.15 L248.81,79.17 L248.83,80.19 L248.84,81.21 L248.85,82.22 L248.86,83.24 L248.88,84.25 L248.89,85.25 L248.91,86.25 L248.93,87.24 L248.95,88.22 L248.97,89.19 L248.99,90.16 L249.01,91.13 L249.03,92.11 L249.05,93.08 L249.07,94.06 L249.09,95.04 L249.10,96.03 L249.11,97.03 L249.12,98.03 L249.13,99.04 L249.14,100.04 L249.15,101.05 L249.16,102.06 L249.17,103.07 L249.18,104.07 L249.20,105.08 L249.22,106.08 L249.24,107.08 L249.28,108.08 L249.32,109.08 L249.37,110.07 L249.42,111.07 L249.47,112.06 L249.52,113.05 L249.58,114.05 L249.63,115.04 L249.69,116.03 L249.75,117.02 L249.81,118.02 L249.88,119.01 L249.97,120.01 L250.06,121.00 L250.18,122.00 L250.31,123.00 L250.46,124.00 L250.64,125.00 L250.85,126.00 L251.08,127.00 L251.32,128.00 L251.58,129.00 L251.85,130.00 L252.12,131.00 L252.40,132.00 L252.68,133.00 L252.97,134.00 L253.26,135.00 L253.55,136.00 L253.84,137.00 L254.13,137.99 L254.43,138.98 L254.74,139.97 L255.05,140.95 L255.38,141.91 L255.71,142.85 L256.06,143.78 L256.42,144.68 L256.79,145.56 L257.17,146.43 L257.56,147.29 L257.95,148.14 L258.37,148.98 L258.79,149.82 L259.23,150.66 L259.68,151.50 L260.15,152.33 L260.63,153.17 L261.15,154.00 L261.68,154.84 L262.24,155.67 L262.82,156.49 L263.41,157.29 L264.00,158.08 L264.60,158.85 L265.20,159.61 L265.80,160.35 L266.41,161.09 L267.01,161.83 L267.62,162.57 L268.23,163.31 L268.84,164.05 L269.45,164.80 L270.05,165.56 L270.65,166.31 L271.23,167.08 L271.80,167.85 L272.35,168.63 L272.89,169.41 L273.42,170.21 L273.94,171.00 L274.45,171.81 L274.97,172.62 L275.48,173.44 L276.00,174.27 L276.52,175.13 L277.04,176.00 L277.56,176.89 L278.09,177.80 L278.62,178.70 L279.16,179.61 L279.70,180.50 L280.25,181.37 L280.82,182.23 L281.39,183.06 L281.96,183.88 L282.54,184.69 L283.12,185.50 L283.71,186.30 L284.29,187.10 L284.88,187.90 L285.47,188.69 L286.08,189.48 L286.71,190.26 L287.36,191.03 L288.05,191.78 L288.77,192.51 L289.51,193.23 L290.26,193.94 L291.00,194.65 L291.72,195.36 L292.41,196.08 L293.09,196.80 L293.76,197.52 L294.44,198.23 L295.13,198.93 L295.84,199.63 L296.57,200.31 L297.32,200.98 L298.09,201.64 L298.86,202.28 L299.65,202.91 L300.44,203.52 L301.24,204.11 L302.05,204.70 L302.86,205.27 L303.68,205.83 L304.51,206.38 L305.33,206.92 L306.17,207.44 L307.01,207.95 L307.85,208.45 L308.70,208.95 L309.55,209.46 L310.39,209.97 L311.23,210.51 L312.07,211.07 L312.89,211.65 L313.72,212.26 L314.54,212.89 L315.36,213.52 L316.18,214.14 L317.01,214.76 L317.83,215.35 L318.67,215.91 L319.51,216.46 L320.36,216.98 L321.20,217.49 L322.06,218.00 L322.92,218.51 L323.79,219.02 L324.66,219.54 L325.55,220.07 L326.44,220.60 L327.34,221.13 L328.24,221.67 L329.13,222.22 L330.00,222.76 L330.84,223.30 L331.67,223.85 L332.47,224.39 L333.26,224.92 L334.04,225.45 L334.84,225.97 L335.64,226.49 L336.46,226.99 L337.31,227.50 L338.18,228.01 L339.08,228.52 L339.99,229.03 L340.89,229.56 L341.79,230.11 L342.67,230.67 L343.50,231.25 L344.25,231.88 L345.00,232.50 L345.38,233.38 L345.75,234.25 L346.12,235.12 L346.50,236.00 L347.25,236.60 L348.00,237.20 L348.80,237.63 L349.57,238.10 L350.29,238.64 L350.99,239.21 L351.69,239.79 L352.39,240.38 L353.09,240.98 L353.81,241.58 L354.54,242.17 L355.29,242.75 L356.06,243.32 L356.84,243.87 L357.63,244.40 L358.44,244.91 L359.27,245.39 L360.11,245.85 L360.98,246.28 L361.87,246.69 L362.77,247.09 L363.68,247.47 L364.59,247.86 L365.52,248.25 L366.44,248.64 L367.37,249.05 L368.30,249.45 L369.23,249.85 L370.17,250.26 L371.10,250.65 L372.03,251.04 L372.97,251.42 L373.90,251.80 L374.84,252.17 L375.78,252.54 L376.72,252.92 L377.66,253.29 L378.60,253.67 L379.55,254.05 L380.50,254.43 L381.44,254.81 L382.38,255.18 L383.32,255.56 L384.26,255.92 L385.20,256.28 L386.13,256.63 L387.07,256.97 L388.00,257.29 L388.93,257.58 L389.87,257.86 L390.80,258.12 L391.73,258.37 L392.67,258.60 L393.60,258.82 L394.53,259.02 L395.47,259.21 L396.40,259.38 L397.32,259.54 L398.25,259.70 L399.17,259.84 L400.09,259.97 L401.02,260.09 L401.95,260.22 L402.90,260.34 L403.87,260.47 L404.87,260.62 L405.97,260.80 L407.10,261.00" fill="none" stroke="#ff0000" stroke-width="2.5" stroke-linejoin="round" stroke-linecap="round"/><path d="M96.60,288.10 L96.65,287.15 L96.70,286.20 L96.80,285.19 L96.88,284.19 L97.00,283.15 L97.20,282.00 L97.90,281.30 L98.60,280.60 L99.57,280.73 L100.53,280.87 L101.50,281.00 L102.43,281.00 L103.37,281.00 L104.30,281.00 L105.45,280.55 L106.60,280.10 L106.95,279.28 L107.30,278.45 L107.61,277.59 L107.90,276.71 L108.17,275.81 L108.44,274.90 L108.69,273.99 L108.95,273.06 L109.20,272.13 L109.47,271.19 L109.74,270.26 L110.04,269.32 L110.35,268.38 L110.69,267.44 L111.05,266.50 L111.44,265.56 L111.86,264.64 L112.31,263.73 L112.78,262.85 L113.26,261.99 L113.75,261.15 L114.25,260.33 L114.74,259.53 L115.24,258.74 L115.73,257.95 L116.24,257.18 L116.77,256.42 L117.33,255.66 L117.94,254.92 L118.58,254.19 L119.25,253.48 L119.96,252.78 L120.69,252.09 L121.46,251.43 L122.25,250.80 L123.06,250.19 L123.90,249.60 L124.74,249.03 L125.59,248.48 L126.45,247.95 L127.30,247.43 L128.15,246.92 L129.01,246.43 L129.87,245.95 L130.73,245.48 L131.59,245.02 L132.46,244.57 L133.33,244.13 L134.20,243.68 L135.05,243.22 L135.91,242.76 L136.75,242.28 L137.60,241.79 L138.44,241.29 L139.28,240.79 L140.12,240.28 L140.96,239.77 L141.80,239.26 L142.65,238.74 L143.50,238.21 L144.34,237.68 L145.18,237.13 L146.02,236.58 L146.86,236.01 L147.70,235.44 L148.54,234.86 L149.38,234.28 L150.22,233.70 L151.06,233.12 L151.90,232.53 L152.75,231.95 L153.60,231.36 L154.44,230.77 L155.28,230.18 L156.12,229.59 L156.96,229.00 L157.80,228.40 L158.64,227.80 L159.48,227.21 L160.32,226.62 L161.16,226.03 L162.00,225.44 L162.85,224.85 L163.70,224.26 L164.54,223.67 L165.38,223.08 L166.22,222.49 L167.06,221.90 L167.90,221.30 L168.73,220.70 L169.56,220.10 L170.39,219.50 L171.21,218.90 L172.03,218.30 L172.85,217.69 L173.65,217.08 L174.46,216.46 L175.25,215.84 L176.04,215.21 L176.82,214.58 L177.59,213.94 L178.36,213.30 L179.11,212.65 L179.85,211.99 L180.56,211.32 L181.25,210.63 L181.93,209.93 L182.58,209.22 L183.22,208.50 L183.86,207.78 L184.49,207.05 L185.10,206.30 L185.71,205.53 L186.29,204.74 L186.86,203.92 L187.42,203.08 L187.96,202.22 L188.49,201.34 L189.00,200.46 L189.50,199.57 L189.98,198.69 L190.44,197.80 L190.87,196.91 L191.28,196.02 L191.67,195.14 L192.04,194.25 L192.41,193.35 L192.77,192.46 L193.13,191.55 L193.49,190.64 L193.84,189.71 L194.20,188.78 L194.55,187.84 L194.90,186.88 L195.24,185.92 L195.59,184.95 L195.93,183.97 L196.27,182.99 L196.61,182.01 L196.94,181.03 L197.27,180.05 L197.60,179.08 L197.92,178.11 L198.23,177.16 L198.55,176.20 L198.86,175.25 L199.18,174.29 L199.49,173.33 L199.81,172.36 L200.12,171.39 L200.44,170.41 L200.76,169.42 L201.07,168.43 L201.39,167.45 L201.71,166.46 L202.04,165.47 L202.38,164.48 L202.73,163.51 L203.11,162.54 L203.51,161.58 L203.93,160.64 L204.35,159.70 L204.76,158.77 L205.15,157.84 L205.50,156.90 L205.83,155.96 L206.14,155.02 L206.45,154.08 L206.75,153.14 L207.06,152.21 L207.38,151.29 L207.73,150.38 L208.09,149.48 L208.49,148.60 L208.92,147.74 L209.38,146.91 L209.88,146.10 L210.43,145.32 L211.04,144.58 L211.83,143.97 L212.70,143.40 L213.57,143.97 L214.34,144.58 L214.92,145.31 L215.41,146.09 L215.85,146.90 L216.26,147.74 L216.63,148.61 L216.98,149.50 L217.31,150.42 L217.65,151.35 L217.97,152.30 L218.30,153.26 L218.61,154.22 L218.93,155.18 L219.23,156.15 L219.52,157.12 L219.80,158.10 L220.06,159.08 L220.32,160.06 L220.57,161.04 L220.81,162.02 L221.06,163.01 L221.30,163.99 L221.54,164.96 L221.79,165.94 L222.03,166.91 L222.27,167.89 L222.51,168.86 L222.76,169.83 L223.00,170.80 L223.63,171.65 L224.25,172.50 L224.90,173.30 L225.56,174.07 L226.23,174.83 L226.90,175.58 L227.55,176.33 L228.19,177.08 L228.80,177.86 L229.38,178.65 L229.91,179.48 L230.40,180.33 L230.84,181.20 L231.23,182.10 L231.57,183.02 L231.87,183.95 L232.14,184.90 L232.39,185.86 L232.62,186.82 L232.85,187.78 L233.08,188.74 L233.32,189.71 L233.55,190.68 L233.79,191.64 L234.04,192.61 L234.30,193.57 L234.57,194.53 L234.86,195.47 L235.18,196.40 L235.53,197.32 L235.92,198.21 L236.33,199.09 L236.76,199.95 L237.21,200.81 L237.67,201.65 L238.14,202.49 L238.61,203.33 L239.09,204.17 L239.56,205.00 L240.03,205.84 L240.50,206.68 L240.97,207.52 L241.43,208.37 L241.88,209.22 L242.33,210.07 L242.77,210.92 L243.21,211.78 L243.64,212.65 L244.05,213.52 L244.43,214.40 L244.78,215.30 L245.09,216.22 L245.36,217.15 L245.60,218.09 L245.80,219.04 L245.98,220.00 L246.14,220.95 L246.28,221.92 L246.42,222.89 L246.56,223.87 L246.70,224.87 L246.84,225.87 L247.00,226.88 L247.16,227.90 L247.32,228.92 L247.50,229.93 L247.68,230.94 L247.87,231.94 L248.07,232.93 L248.29,233.92 L248.52,234.90 L248.76,235.87 L249.01,236.85 L249.27,237.83 L249.55,238.80 L249.85,239.77 L250.18,240.72 L250.55,241.65 L250.95,242.53 L251.40,243.37 L251.88,244.18 L252.38,244.96 L252.89,245.73 L253.38,246.51 L253.86,247.31 L254.32,248.13 L254.75,248.97 L255.14,249.83 L255.50,250.71 L255.82,251.61 L256.11,252.53 L256.37,253.46 L256.61,254.40 L256.84,255.33 L257.07,256.27 L257.28,257.19 L257.49,258.12 L257.69,259.04 L257.89,259.96 L258.09,260.88 L258.28,261.81 L258.47,262.73 L258.65,263.67 L258.83,264.61 L259.00,265.55 L259.17,266.50 L259.33,267.45 L259.50,268.40" fill="none" stroke="#ff8800" stroke-width="2.5" stroke-linejoin="round" stroke-linecap="round"/>
<path d="M70.1,4.9 V303.5" fill="none" stroke="#2a2a2a" stroke-width="1.8"/><path d="M69.19999999999999,302.7 H439.79999999999995" fill="none" stroke="#222" stroke-width="1.8"/><path d="M69.19999999999999,5.7 H439.79999999999995" fill="none" stroke="#222" stroke-width="1.5"/><path d="M439.0,5.0 V303.5" fill="none" stroke="#4a4a4a" stroke-width="2"/><line x1="67.10" y1="302.95" x2="70.1" y2="302.95" stroke="#222" stroke-width="1.5"/><line x1="64.10" y1="288.80" x2="70.1" y2="288.80" stroke="#222" stroke-width="1.5"/><text x="60.6" y="293.20" class="t" text-anchor="end">0</text><line x1="67.10" y1="274.65" x2="70.1" y2="274.65" stroke="#222" stroke-width="1.5"/><line x1="64.10" y1="260.49" x2="70.1" y2="260.49" stroke="#222" stroke-width="1.5"/><text x="60.6" y="264.89" class="t" text-anchor="end">1000</text><line x1="67.10" y1="246.34" x2="70.1" y2="246.34" stroke="#222" stroke-width="1.5"/><line x1="64.10" y1="232.18" x2="70.1" y2="232.18" stroke="#222" stroke-width="1.5"/><text x="60.6" y="236.58" class="t" text-anchor="end">2000</text><line x1="67.10" y1="218.03" x2="70.1" y2="218.03" stroke="#222" stroke-width="1.5"/><line x1="64.10" y1="203.87" x2="70.1" y2="203.87" stroke="#222" stroke-width="1.5"/><text x="60.6" y="208.27" class="t" text-anchor="end">3000</text><line x1="67.10" y1="189.72" x2="70.1" y2="189.72" stroke="#222" stroke-width="1.5"/><line x1="64.10" y1="175.56" x2="70.1" y2="175.56" stroke="#222" stroke-width="1.5"/><text x="60.6" y="179.96" class="t" text-anchor="end">4000</text><line x1="67.10" y1="161.41" x2="70.1" y2="161.41" stroke="#222" stroke-width="1.5"/><line x1="64.10" y1="147.25" x2="70.1" y2="147.25" stroke="#222" stroke-width="1.5"/><text x="60.6" y="151.65" class="t" text-anchor="end">5000</text><line x1="67.10" y1="133.10" x2="70.1" y2="133.10" stroke="#222" stroke-width="1.5"/><line x1="64.10" y1="118.94" x2="70.1" y2="118.94" stroke="#222" stroke-width="1.5"/><text x="60.6" y="123.34" class="t" text-anchor="end">6000</text><line x1="67.10" y1="104.79" x2="70.1" y2="104.79" stroke="#222" stroke-width="1.5"/><line x1="64.10" y1="90.63" x2="70.1" y2="90.63" stroke="#222" stroke-width="1.5"/><text x="60.6" y="95.03" class="t" text-anchor="end">7000</text><line x1="67.10" y1="76.48" x2="70.1" y2="76.48" stroke="#222" stroke-width="1.5"/><line x1="64.10" y1="62.32" x2="70.1" y2="62.32" stroke="#222" stroke-width="1.5"/><text x="60.6" y="66.72" class="t" text-anchor="end">8000</text><line x1="67.10" y1="48.17" x2="70.1" y2="48.17" stroke="#222" stroke-width="1.5"/><line x1="64.10" y1="34.01" x2="70.1" y2="34.01" stroke="#222" stroke-width="1.5"/><text x="60.6" y="38.41" class="t" text-anchor="end">9000</text><line x1="67.10" y1="19.86" x2="70.1" y2="19.86" stroke="#222" stroke-width="1.5"/><line x1="64.10" y1="5.70" x2="70.1" y2="5.70" stroke="#222" stroke-width="1.5"/><text x="60.6" y="10.10" class="t" text-anchor="end" textLength="31" lengthAdjust="spacingAndGlyphs">10000</text><line x1="70.10" y1="302.7" x2="70.10" y2="308.7" stroke="#222" stroke-width="1.5"/><text x="70.10" y="322.6" class="t" text-anchor="middle">-1</text><line x1="83.26" y1="302.7" x2="83.26" y2="305.7" stroke="#222" stroke-width="1.5"/><line x1="96.43" y1="302.7" x2="96.43" y2="308.7" stroke="#222" stroke-width="1.5"/><text x="96.43" y="322.6" class="t" text-anchor="middle">0</text><line x1="109.59" y1="302.7" x2="109.59" y2="305.7" stroke="#222" stroke-width="1.5"/><line x1="122.76" y1="302.7" x2="122.76" y2="308.7" stroke="#222" stroke-width="1.5"/><text x="122.76" y="322.6" class="t" text-anchor="middle">1</text><line x1="135.92" y1="302.7" x2="135.92" y2="305.7" stroke="#222" stroke-width="1.5"/><line x1="149.09" y1="302.7" x2="149.09" y2="308.7" stroke="#222" stroke-width="1.5"/><text x="149.09" y="322.6" class="t" text-anchor="middle">2</text><line x1="162.25" y1="302.7" x2="162.25" y2="305.7" stroke="#222" stroke-width="1.5"/><line x1="175.42" y1="302.7" x2="175.42" y2="308.7" stroke="#222" stroke-width="1.5"/><text x="175.42" y="322.6" class="t" text-anchor="middle">3</text><line x1="188.58" y1="302.7" x2="188.58" y2="305.7" stroke="#222" stroke-width="1.5"/><line x1="201.75" y1="302.7" x2="201.75" y2="308.7" stroke="#222" stroke-width="1.5"/><text x="201.75" y="322.6" class="t" text-anchor="middle">4</text><line x1="214.91" y1="302.7" x2="214.91" y2="305.7" stroke="#222" stroke-width="1.5"/><line x1="228.08" y1="302.7" x2="228.08" y2="308.7" stroke="#222" stroke-width="1.5"/><text x="228.08" y="322.6" class="t" text-anchor="middle">5</text><line x1="241.24" y1="302.7" x2="241.24" y2="305.7" stroke="#222" stroke-width="1.5"/><line x1="254.41" y1="302.7" x2="254.41" y2="308.7" stroke="#222" stroke-width="1.5"/><text x="254.41" y="322.6" class="t" text-anchor="middle">6</text><line x1="267.57" y1="302.7" x2="267.57" y2="305.7" stroke="#222" stroke-width="1.5"/><line x1="280.74" y1="302.7" x2="280.74" y2="308.7" stroke="#222" stroke-width="1.5"/><text x="280.74" y="322.6" class="t" text-anchor="middle">7</text><line x1="293.90" y1="302.7" x2="293.90" y2="305.7" stroke="#222" stroke-width="1.5"/><line x1="307.07" y1="302.7" x2="307.07" y2="308.7" stroke="#222" stroke-width="1.5"/><text x="307.07" y="322.6" class="t" text-anchor="middle">8</text><line x1="320.24" y1="302.7" x2="320.24" y2="305.7" stroke="#222" stroke-width="1.5"/><line x1="333.40" y1="302.7" x2="333.40" y2="308.7" stroke="#222" stroke-width="1.5"/><text x="333.40" y="322.6" class="t" text-anchor="middle">9</text><line x1="346.56" y1="302.7" x2="346.56" y2="305.7" stroke="#222" stroke-width="1.5"/><line x1="359.73" y1="302.7" x2="359.73" y2="308.7" stroke="#222" stroke-width="1.5"/><text x="359.73" y="322.6" class="t" text-anchor="middle">10</text><line x1="372.89" y1="302.7" x2="372.89" y2="305.7" stroke="#222" stroke-width="1.5"/><line x1="386.06" y1="302.7" x2="386.06" y2="308.7" stroke="#222" stroke-width="1.5"/><text x="386.06" y="322.6" class="t" text-anchor="middle">11</text><line x1="399.23" y1="302.7" x2="399.23" y2="305.7" stroke="#222" stroke-width="1.5"/><line x1="412.39" y1="302.7" x2="412.39" y2="308.7" stroke="#222" stroke-width="1.5"/><text x="412.39" y="322.6" class="t" text-anchor="middle">12</text><line x1="425.55" y1="302.7" x2="425.55" y2="305.7" stroke="#222" stroke-width="1.5"/><line x1="438.72" y1="302.7" x2="438.72" y2="308.7" stroke="#222" stroke-width="1.5"/><text x="438.72" y="322.6" class="t" text-anchor="middle">13</text><text x="254.5" y="347.2" class="b" style="font-size:15.5px" text-anchor="middle" textLength="119" lengthAdjust="spacingAndGlyphs">Displacement,mm</text><text transform="translate(11.6,146.6) rotate(-90)" class="b" text-anchor="middle" textLength="49.5" lengthAdjust="spacingAndGlyphs">Load,N</text><line x1="263" y1="14.50" x2="296.9" y2="14.50" stroke="#ff8800" stroke-width="2.4" stroke-linecap="round"/><text x="301" y="19.50" class="l" textLength="135.5" lengthAdjust="spacingAndGlyphs">v=3m/min,D=0.5mm</text><line x1="263" y1="33.80" x2="296.9" y2="33.80" stroke="#ff00ff" stroke-width="2.4" stroke-linecap="round"/><text x="301" y="38.80" class="l" textLength="135.5" lengthAdjust="spacingAndGlyphs">v=3m/min,D=0.3mm</text><line x1="263" y1="53.10" x2="296.9" y2="53.10" stroke="#00ffff" stroke-width="2.4" stroke-linecap="round"/><text x="301" y="58.10" class="l" textLength="135.5" lengthAdjust="spacingAndGlyphs">v=5m/min,D=0.3mm</text><line x1="263" y1="72.40" x2="296.9" y2="72.40" stroke="#0000ff" stroke-width="2.4" stroke-linecap="round"/><text x="301" y="77.40" class="l" textLength="135.5" lengthAdjust="spacingAndGlyphs">v=7m/min,D=0.3mm</text><line x1="263" y1="91.70" x2="296.9" y2="91.70" stroke="#ff0000" stroke-width="2.4" stroke-linecap="round"/><text x="301" y="96.70" class="l" textLength="135.5" lengthAdjust="spacingAndGlyphs">v=9m/min,D=0.3mm</text>
</svg>
</body></html>
